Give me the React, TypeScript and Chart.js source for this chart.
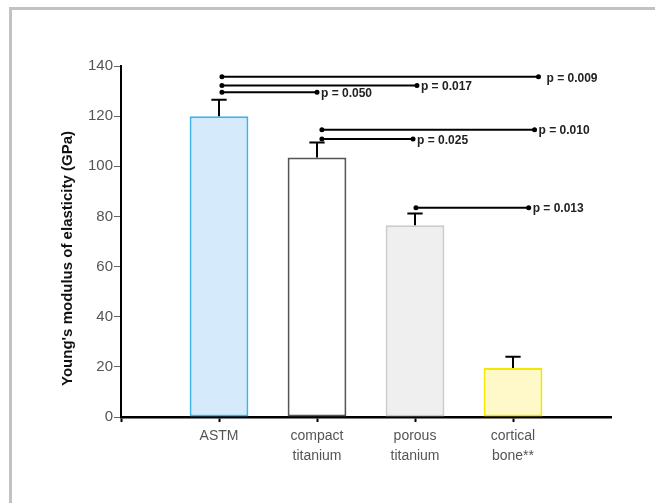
import React, { useEffect, useRef } from 'react';
import { Chart, registerables } from 'chart.js';
Chart.register(...registerables);

// ---- data ----
const categories: string[][] = [[''], ['ASTM'], ['compact', 'titanium'], ['porous', 'titanium'], ['cortical', 'bone**'], ['']];
const means: (number | null)[] = [null, 120, 103.5, 76.5, 19.5, null];
const errors: (number | null)[] = [null, 6.5, 6, 4.7, 4.5, null];
const fillColors = ['rgba(0,0,0,0)', '#d5eafa', '#ffffff', '#efefef', '#fff8c8', 'rgba(0,0,0,0)'];
const edgeColors = ['rgba(0,0,0,0)', '#3fb3ec', '#555555', '#cbcbcb', '#f6e600', 'rgba(0,0,0,0)'];
const yMin = 0;
const yMax = 140;
const yStep = 20;
const yTitle = "Young's modulus of elasticity (GPa)";

// significance brackets (x in category-index units, y in GPa)
const bracketFrom = [1.03, 1.03, 1.03, 2.05, 2.05, 3.01];
const bracketTo = [4.26, 3.02, 2.0, 4.22, 2.98, 4.16];
const bracketY = [135.7, 132.2, 129.5, 114.6, 110.9, 83.5];
const bracketLabels = ['p = 0.009', 'p = 0.017', 'p = 0.050', 'p = 0.010', 'p = 0.025', 'p = 0.013'];
const bracketLabelGap = [8, 4, 4, 4, 4, 4];

const annotPlugin = {
  id: 'annot',
  afterDatasetsDraw(chart: any) {
    const ctx = chart.ctx as CanvasRenderingContext2D;
    const xs = chart.scales.x;
    const ys = chart.scales.y;
    const meta = chart.getDatasetMeta(0);
    ctx.save();
    // error bars
    ctx.strokeStyle = '#000';
    ctx.lineWidth = 2;
    means.forEach((m, i) => {
      const e = errors[i];
      if (m == null || e == null) return;
      const bar = meta.data[i];
      const x = bar.x;
      const y0 = ys.getPixelForValue(m);
      const y1 = ys.getPixelForValue(m + e);
      const half = bar.width * 0.13;
      ctx.beginPath();
      ctx.moveTo(x, y0);
      ctx.lineTo(x, y1);
      ctx.moveTo(x - half, y1);
      ctx.lineTo(x + half, y1);
      ctx.stroke();
    });
    // brackets
    ctx.fillStyle = '#000';
    ctx.font = 'bold 12px "Liberation Sans", Arial, sans-serif';
    ctx.textBaseline = 'middle';
    ctx.textAlign = 'left';
    bracketY.forEach((v, i) => {
      const y = ys.getPixelForValue(v);
      const x0 = xs.getPixelForValue(bracketFrom[i]);
      const x1 = xs.getPixelForValue(bracketTo[i]);
      ctx.beginPath();
      ctx.moveTo(x0, y);
      ctx.lineTo(x1, y);
      ctx.stroke();
      ctx.beginPath();
      ctx.arc(x0, y, 2.5, 0, Math.PI * 2);
      ctx.arc(x1, y, 2.5, 0, Math.PI * 2);
      ctx.fill();
      ctx.fillStyle = '#222';
      ctx.fillText(bracketLabels[i], x1 + bracketLabelGap[i], y + 1.5);
      ctx.fillStyle = '#000';
    });
    // y title
    const ca = chart.chartArea;
    ctx.translate(68, (ca.top + ca.bottom) / 2 + 17);
    ctx.rotate(-Math.PI / 2);
    ctx.textAlign = 'center';
    ctx.fillStyle = '#111';
    ctx.font = 'bold 15px "Liberation Sans", Arial, sans-serif';
    ctx.fillText(yTitle, 0, 0);
    ctx.restore();
  },
};

export default function App() {
  const ref = useRef<HTMLCanvasElement>(null);
  useEffect(() => {
    if (!ref.current) return;
    const chart = new Chart(ref.current, {
      type: 'bar',
      data: {
        labels: categories as any,
        datasets: [
          {
            data: means as any,
            backgroundColor: fillColors,
            borderColor: edgeColors,
            borderWidth: 2,
            borderSkipped: false,
            categoryPercentage: 0.6,
            barPercentage: 1,
          },
        ],
      },
      options: {
        animation: false,
        responsive: false,
        maintainAspectRatio: false,
        layout: { padding: { left: 0, top: 66, right: 44, bottom: 26 } },
        plugins: { legend: { display: false }, tooltip: { enabled: false } },
        scales: {
          x: {
            offset: false,
            afterFit: (s: any) => { s.height = 60; },
            border: { display: true, color: '#000', width: 2.5 },
            grid: {
              offset: false,
              drawOnChartArea: false,
              drawTicks: true,
              tickLength: 5,
              tickWidth: 2,
              tickColor: (c: any) => (c.index === 5 ? 'rgba(0,0,0,0)' : '#000'),
            },
            ticks: {
              color: '#555',
              padding: 4,
              maxRotation: 0,
              autoSkip: false,
              font: { family: '"Liberation Sans", Arial, sans-serif', size: 14, lineHeight: 1.43 },
            },
          },
          y: {
            min: yMin,
            max: yMax,
            afterFit: (s: any) => { s.width = 121; },
            border: { display: true, color: '#000', width: 2 },
            grid: { drawOnChartArea: false, drawTicks: true, tickLength: 7, tickColor: '#666', tickWidth: 1 },
            ticks: {
              stepSize: yStep,
              color: '#555',
              padding: 1,
              font: { family: '"Liberation Sans", Arial, sans-serif', size: 15 },
            },
          },
        },
      },
      plugins: [annotPlugin],
    });
    return () => chart.destroy();
  }, []);
  return (
    <div style={{ position: 'fixed', left: 0, top: 0, width: 655, height: 503, background: '#fff' }}>
      <div style={{ position: 'absolute', left: 9, top: 7, right: 0, bottom: 0, borderLeft: '3px solid #c2c2c2', borderTop: '3px solid #c2c2c2' }} />
      <canvas ref={ref} width={655} height={503} style={{ position: 'absolute', left: 0, top: 0 }} />
    </div>
  );
}
